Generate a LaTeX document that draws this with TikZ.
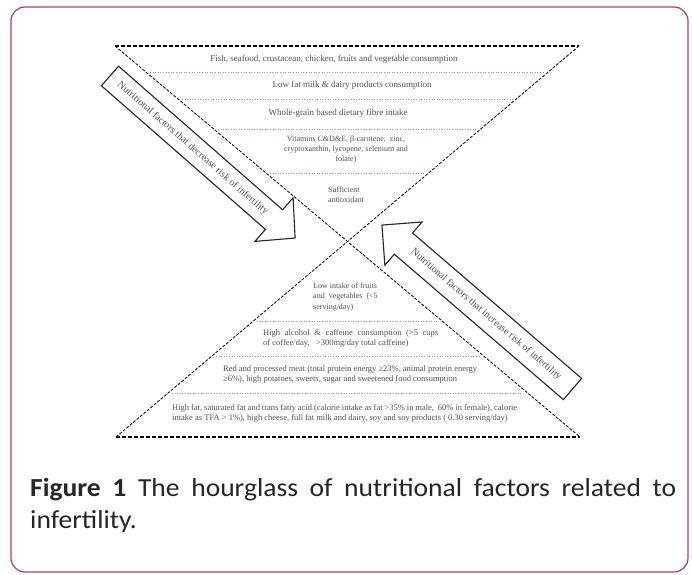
\documentclass[tikz,border=0pt]{standalone}
\usepackage{fontspec}
\setmainfont{Liberation Serif}
\newfontfamily\capfont[FakeStretch = 1.06]{Carlito}
\definecolor{framepink}{RGB}{176,58,122}
\definecolor{sepblue}{RGB}{120,160,200}
\definecolor{textgrey}{RGB}{80,80,80}

\begin{document}
\begin{tikzpicture}[x = 1pt, y = 1pt,
        band/.style = {text = textgrey, font = \fontsize{8.5}{10}\selectfont, inner sep = 0pt},
        block/.style = {band, anchor = west, align = justify},
        sep/.style = {draw = sepblue, dotted, line width = 0.6pt},
        rim/.style = {line width = 1.1pt, dash pattern = on 4pt off 2pt},
        side/.style = {line width = 0.8pt, dash pattern = on 3pt off 1.5pt},
        bigarrow/.style = {draw = black!85, line width = 1.1pt, fill = white},
        arrowtext/.style = {text = textgrey, font = \fontsize{10}{11}\selectfont, transform shape}]

        \useasboundingbox (0, 0) rectangle (692, 574);

        % Frame
        \draw [framepink, line width = 1.2pt, rounded corners = 14pt] (11, 2) rectangle (688, 567);

        % Hourglass corners
        \coordinate (tl) at (115, 528);
        \coordinate (tr) at (579, 528);
        \coordinate (bl) at (116, 137);
        \coordinate (br) at (580, 137);

        % Hourglass outline
        \draw [rim] (tl) -- (tr);
        \draw [rim] (bl) -- (br);
        \draw [side] (tl) -- (br);
        \draw [side] (tr) -- (bl);

        % Layer separators
        \draw [sep] (150, 502) -- (545, 502);
        \draw [sep] (182, 475) -- (513, 475);
        \draw [sep] (218, 445) -- (477, 445);
        \draw [sep] (270, 401) -- (425, 401);
        \draw [sep] (257, 253) -- (438, 253);
        \draw [sep] (216, 218) -- (479, 218);
        \draw [sep] (172, 181) -- (523, 181);

        % Upper layers
        \node [band, font = \fontsize{9}{10}\selectfont] (fish) at (334, 515) {Fish, seafood, crustacean, chicken, fruits and vegetable consumption};
        \node [band, font = \fontsize{9}{10}\selectfont] (milk) at (352, 489) {Low fat milk \& dairy products consumption};
        \node [band, font = \fontsize{9}{10}\selectfont] (grain) at (338, 461) {Whole-grain based dietary fibre intake};
        \node [band, align = center, font = \fontsize{8}{10}\selectfont] (vitamins) at (346, 424) {Vitamins C\&D\&E, β-carotene,\ \ zinc,\\ cryptoxanthin, lycopene,\ selenium and\\ folate)};
        \node [band, align = left, anchor = west, font = \fontsize{8}{9.5}\selectfont] (antiox) at (328, 379.5) {Sufficient\\ antioxidant};

        % Lower layers
        \node [band, align = left, anchor = west, font = \fontsize{8}{10.5}\selectfont] (lowfruit) at (313, 277) {Low intake of fruits\\ and\ \ vegetables\ \ (<5\\ serving/day)};
        \node [block, text width = 175pt] (alcohol) at (263, 235.5) {High alcohol \& caffeine consumption (>5 cups\linebreak of coffee/day,\ \ \ >300mg/day total caffeine)};
        \node [block, text width = 254pt] (meat) at (223, 200) {Red and processed meat (total protein energy ≥23\%, animal protein energy\linebreak ≥6\%), high potatoes, sweets, sugar and sweetened\ food consumption};
        \node [block, text width = 345pt] (fat) at (172, 161) {High fat, saturated fat and trans fatty acid (calorie intake as fat >35\% in male,\ \ 60\% in female), calorie\linebreak intake as TFA > 1\%), high cheese, full fat milk and dairy, soy and soy products ( 0.30 serving/day)};

        % Arrow: decrease
        \begin{scope}[shift = {(110, 498)}, rotate = -41.2]
            \draw [bigarrow] (0, -13) -- (218, -13) -- (218, -29) -- (246, 0) -- (218, 29) -- (218, 13) -- (0, 13) -- cycle;
            \node [arrowtext] (decrease) at (110, 0) {Nutritional factors that decrease risk of infertility};
        \end{scope}

        % Arrow: increase
        \begin{scope}[shift = {(572.5, 185)}, rotate = 139.3]
            \draw [bigarrow] (0, -14) -- (223, -14) -- (223, -28.5) -- (251.4, 0) -- (223, 28.5) -- (223, 14) -- (0, 14) -- cycle;
            \node [arrowtext, rotate = 180] (increase) at (114, 0) {Nutritional factors that increase risk of infertility};
        \end{scope}

        % Caption
        \node [anchor = north west, text width = 646pt, align = justify, inner sep = 0pt, text = black!85,
            font = \capfont\fontsize{26}{32}\selectfont] (caption) at (30, 96)
            {\textbf{Figure 1} The hourglass of nutritional factors related to\linebreak infertility.};

    \end{tikzpicture}
\end{document}
